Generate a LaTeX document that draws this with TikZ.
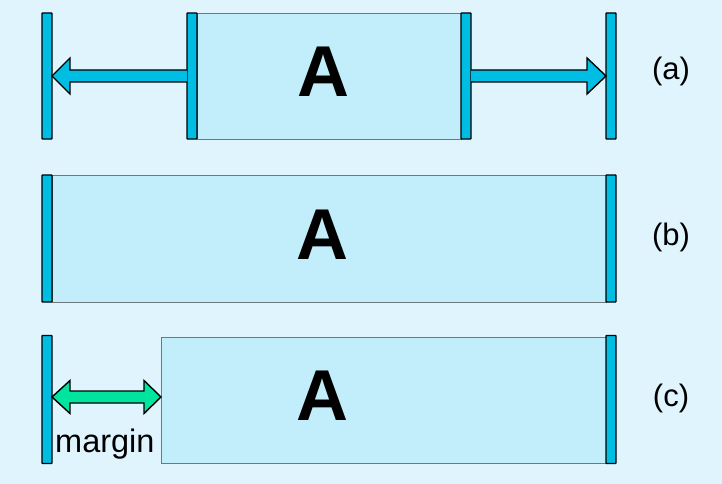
\documentclass[tikz,border=0pt]{standalone}
\usepackage{fontspec}
\setmainfont{Liberation Sans}
\usetikzlibrary{calc}
\definecolor{bgc}{RGB}{224,244,254}
\definecolor{boxc}{RGB}{193,238,250}
\definecolor{barc}{RGB}{0,190,227}
\definecolor{greenc}{RGB}{0,228,160}
\definecolor{boxline}{RGB}{110,120,125}
\begin{document}
\begin{tikzpicture}[x=1pt,y=-1pt,
  barbox/.style={draw=black,line width=1.4pt,fill=barc,inner sep=0pt,outer sep=0pt,minimum width=10pt,minimum height=126pt,rounded corners=0.6pt},
  areabox/.style={draw=boxline,line width=0.9pt,fill=boxc,inner sep=0pt,outer sep=0pt,minimum height=126pt},
  bigA/.style={font=\fontsize{72}{72}\selectfont\bfseries,inner sep=0pt},
  tag/.style={font=\fontsize{31}{31}\selectfont,inner sep=0pt},
  blockarrow/.style={draw=black,line width=1.4pt,line join=miter,fill=barc},
  greenarrow/.style={draw=black,line width=1.4pt,line join=miter,fill=greenc}]
\useasboundingbox (0,0) rectangle (722,484);
\fill[bgc] (0,0) rectangle (722,484);

% ---- panel (a)
\node[areabox,minimum width=264pt] (boxA) at (329,76) {};
\node[barbox] (barA1) at (47,76) {};
\node[barbox] (barA2) at (192,76) {};
\node[barbox] (barA3) at (466,76) {};
\node[barbox] (barA4) at (611,76) {};
\draw[blockarrow] ($(barA2.west)+(0,-6)$) -- ($(barA1.east)+(18,-6)$) -- ($(barA1.east)+(18,-18)$) -- (barA1.east) -- ($(barA1.east)+(18,18)$) -- ($(barA1.east)+(18,6)$) -- ($(barA2.west)+(0,6)$);
\draw[blockarrow] ($(barA3.east)+(0,-6)$) -- ($(barA4.west)+(-19,-6)$) -- ($(barA4.west)+(-19,-18)$) -- (barA4.west) -- ($(barA4.west)+(-19,18)$) -- ($(barA4.west)+(-19,6)$) -- ($(barA3.east)+(0,6)$);
\node[bigA] (tA) at (323.5,72) {A};
\node[tag] (la) at (671,71) {(a)};

% ---- panel (b)
\node[areabox,minimum width=554pt,minimum height=127pt] (boxB) at (329,238.5) {};
\node[barbox,minimum height=127pt] (barB1) at (47,238.5) {};
\node[barbox,minimum height=127pt] (barB2) at (611,238.5) {};
\node[bigA] (tB) at (322.5,235) {A};
\node[tag] (lb) at (671,237) {(b)};

% ---- panel (c)
\node[areabox,minimum width=445pt,minimum height=126pt] (boxC) at (383.5,400) {};
\node[barbox,minimum height=128pt] (barC1) at (47,399.5) {};
\node[barbox,minimum height=128pt] (barC2) at (611,399.5) {};
\coordinate (gL) at (barC1.east |- 0,397);
\coordinate (gR) at (boxC.west |- 0,397);
\draw[greenarrow] (gL) -- ($(gL)+(18,-16.5)$) -- ($(gL)+(18,-6)$) -- ($(gR)+(-17,-6)$) -- ($(gR)+(-17,-16.5)$) -- (gR) -- ($(gR)+(-17,16.5)$) -- ($(gR)+(-17,6)$) -- ($(gL)+(18,6)$) -- ($(gL)+(18,16.5)$) -- cycle;
\node[bigA] (tC) at (322.5,396) {A};
\node[tag,anchor=base west,font=\fontsize{32.5}{32.5}\selectfont] (mg) at (55,452) {margin};
\node[tag] (lc) at (671,398) {(c)};
\end{tikzpicture}
\end{document}
